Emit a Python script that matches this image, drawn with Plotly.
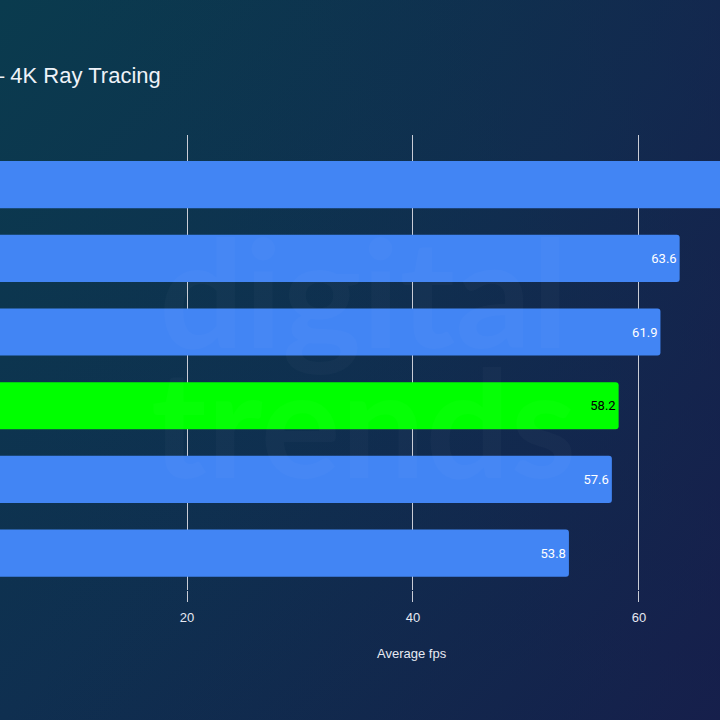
import base64
import plotly.graph_objects as go

# Data (top to bottom); category names are cropped out of the reference
categories = ["Card 1", "Card 2", "Card 3", "Card 4", "Card 5", "Card 6"]
avg_fps = [71.0, 63.6, 61.9, 58.2, 57.6, 53.8]
bar_colors = ["#4285f4", "#4285f4", "#4285f4", "#00ff00", "#4285f4", "#4285f4"]
label_colors = ["#ffffff", "#ffffff", "#ffffff", "#000000", "#ffffff", "#ffffff"]
x_ticks = [20, 40, 60]
title_text = "– 4K Ray Tracing"
x_title = "Average fps"

svg = """<svg xmlns='http://www.w3.org/2000/svg' width='720' height='720'>
<defs><linearGradient id='g' x1='0' y1='0' x2='1' y2='1'>
<stop offset='0' stop-color='#0a3b4e'/>
<stop offset='0.5' stop-color='#0f2f50'/>
<stop offset='1' stop-color='#151d4a'/>
</linearGradient>
<linearGradient id='h' x1='0' y1='0' x2='1' y2='0'>
<stop offset='0' stop-color='#0a3b4e' stop-opacity='0'/>
<stop offset='1' stop-color='#17214d' stop-opacity='0.5'/>
</linearGradient></defs>
<rect width='720' height='720' fill='url(#g)'/>
<rect width='720' height='720' fill='url(#h)'/>
</svg>"""
bg_uri = "data:image/svg+xml;base64," + base64.b64encode(svg.encode()).decode()

fig = go.Figure()
fig.add_trace(go.Bar(
    y=categories,
    x=avg_fps,
    orientation="h",
    marker=dict(color=bar_colors, line=dict(width=0)),
    text=[f"{v:.1f}" for v in avg_fps],
    textposition="inside",
    insidetextanchor="end",
    textfont=dict(family="Roboto", size=13, color=label_colors),
    cliponaxis=True,
    hoverinfo="skip",
))

fig.update_layout(
    width=720, height=720,
    margin=dict(l=0, r=0, t=135, b=130),
    paper_bgcolor="rgba(0,0,0,0)",
    plot_bgcolor="rgba(0,0,0,0)",
    bargap=0.36,
    barcornerradius=3,
    showlegend=False,
    images=[dict(source=bg_uri, xref="paper", yref="paper",
                 x=0, y=1 + 135 / 455, sizex=1, sizey=720 / 455,
                 xanchor="left", yanchor="top", sizing="stretch", layer="below")],
    xaxis=dict(
        range=[3.451, 67.17],
        tickvals=x_ticks,
        showgrid=True, gridcolor="#c9ccd6", gridwidth=1,
        zeroline=False, showline=False,
        ticks="outside", ticklen=11, tickcolor="#c9ccd6", tickwidth=1,
        ticklabelstandoff=4,
        tickfont=dict(family="Liberation Sans", size=13, color="#e6e9f2"),
    ),
    yaxis=dict(
        type="category",
        range=[5.5, -0.673],
        showticklabels=False, showgrid=False, zeroline=False, showline=False, ticks="",
    ),
    annotations=[
        dict(text=title_text, xref="paper", yref="paper", x=0, y=1 + 60 / 455,
             xanchor="left", yanchor="middle", xshift=-10, showarrow=False,
             font=dict(family="Liberation Sans", size=22, color="#eef2f8")),
        dict(text=x_title, xref="paper", yref="paper", x=412 / 720, y=-(653 - 590) / 455,
             xanchor="center", yanchor="middle", showarrow=False,
             font=dict(family="Liberation Sans", size=13, color="#e6e9f2")),
        dict(text="<b>digital</b>", xref="paper", yref="paper", x=0.505, y=1 - 155 / 455,
             xanchor="center", yanchor="middle", showarrow=False,
             font=dict(family="Lato", size=150, color="rgba(255,255,255,0.022)")),
        dict(text="<b>trends</b>", xref="paper", yref="paper", x=0.505, y=1 - 285 / 455,
             xanchor="center", yanchor="middle", showarrow=False,
             font=dict(family="Lato", size=150, color="rgba(255,255,255,0.022)")),
    ],
)

fig.write_html("out.html")
